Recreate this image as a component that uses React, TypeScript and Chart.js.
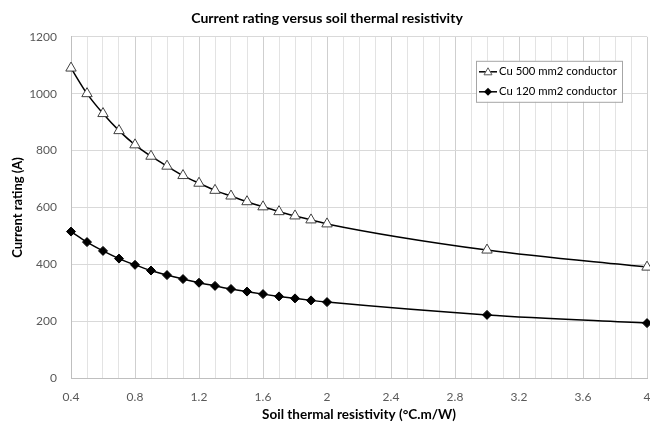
import React, { useEffect, useRef } from "react";
import { Chart, registerables } from "chart.js";

Chart.register(...registerables);

if (typeof document !== "undefined") {
  document.body.style.margin = "0";
  document.body.style.overflow = "hidden";
}

const resistivity = [0.4, 0.5, 0.6, 0.7, 0.8, 0.9, 1.0, 1.1, 1.2, 1.3, 1.4, 1.5, 1.6, 1.7, 1.8, 1.9, 2.0, 3.0, 4.0];
const cu500 = [1090, 1000, 930, 870, 820, 780, 745, 712, 685, 660, 640, 620, 602, 585, 570, 556, 542, 450, 390];
const cu120 = [515, 478, 447, 420, 398, 378, 362, 348, 335, 324, 313, 304, 295, 287, 280, 273, 267, 222, 193];
const seriesLabels = ["Cu 500 mm2 conductor", "Cu 120 mm2 conductor"];
const chartTitle = "Current rating versus soil thermal resistivity";
const xTitle = "Soil thermal resistivity (°C.m/W)";
const yTitle = "Current rating (A)";

const FONT = "Lato, 'Open Sans', sans-serif";

const legendPlugin = {
  id: "insideLegend",
  afterDraw(chart: any) {
    const { ctx, chartArea } = chart;
    const x0 = chartArea.right - 171;
    const y0 = chartArea.top + 24;
    const w = 146;
    const h = 41;
    ctx.save();
    ctx.fillStyle = "#ffffff";
    ctx.fillRect(x0, y0, w, h);
    ctx.strokeStyle = "#a6a6a6";
    ctx.lineWidth = 1;
    ctx.strokeRect(x0 + 0.5, y0 + 0.5, w, h);
    const rows = [y0 + 11, y0 + 31];
    ctx.font = `11.3px ${FONT}`;
    ctx.textBaseline = "middle";
    ctx.textAlign = "left";
    rows.forEach((ry, i) => {
      ctx.strokeStyle = "#000000";
      ctx.lineWidth = 1.5;
      ctx.beginPath();
      ctx.moveTo(x0 + 3, ry);
      ctx.lineTo(x0 + 21, ry);
      ctx.stroke();
      const cx = x0 + 12;
      if (i === 0) {
        ctx.fillStyle = "#ffffff";
        ctx.strokeStyle = "#595959";
        ctx.lineWidth = 1;
        ctx.beginPath();
        ctx.moveTo(cx, ry - 4);
        ctx.lineTo(cx + 4, ry + 3);
        ctx.lineTo(cx - 4, ry + 3);
        ctx.closePath();
        ctx.fill();
        ctx.stroke();
      } else {
        ctx.fillStyle = "#000000";
        ctx.beginPath();
        ctx.moveTo(cx, ry - 4);
        ctx.lineTo(cx + 4, ry);
        ctx.lineTo(cx, ry + 4);
        ctx.lineTo(cx - 4, ry);
        ctx.closePath();
        ctx.fill();
      }
      ctx.fillStyle = "#000000";
      ctx.fillText(seriesLabels[i], x0 + 23, ry);
    });
    ctx.restore();
  },
};

export default function App() {
  const ref = useRef<HTMLCanvasElement | null>(null);
  useEffect(() => {
    if (!ref.current) return;
    const chart = new Chart(ref.current, {
      type: "line",
      data: {
        datasets: [
          {
            label: seriesLabels[0],
            data: resistivity.map((x, i) => ({ x, y: cu500[i] })),
            borderColor: "#000000",
            borderWidth: 1.5,
            pointStyle: "triangle",
            pointRadius: 6,
            pointBackgroundColor: "#ffffff",
            pointBorderColor: "#404040",
            pointBorderWidth: 1,
            tension: 0.4,
            cubicInterpolationMode: "monotone",
            clip: false,
          },
          {
            label: seriesLabels[1],
            data: resistivity.map((x, i) => ({ x, y: cu120[i] })),
            borderColor: "#000000",
            borderWidth: 1.5,
            pointStyle: "rectRot",
            pointRadius: 4.5,
            pointBackgroundColor: "#000000",
            pointBorderColor: "#000000",
            pointBorderWidth: 1,
            tension: 0.4,
            cubicInterpolationMode: "monotone",
            clip: false,
          },
        ],
      },
      options: {
        animation: false,
        responsive: false,
        layout: { padding: { left: 0, right: 0, top: 2, bottom: 3 } },
        plugins: {
          legend: { display: false },
          tooltip: { enabled: false },
          title: {
            display: true,
            text: chartTitle,
            color: "#000000",
            font: { family: FONT, size: 14, weight: "bold" },
            padding: { top: 8, bottom: 10 },
          },
        },
        scales: {
          x: {
            type: "linear",
            min: 0.4,
            max: 4,
            afterFit: (s: any) => {
              s.paddingLeft = 0;
              s.paddingRight = 0;
              s.height = 45;
            },
            ticks: {
              stepSize: 0.1,
              autoSkip: false,
              maxRotation: 0,
              color: "#595959",
              font: { family: FONT, size: 12 },
              padding: 12,
              callback: (v: any) => {
                const r = Math.round(Number(v) * 10);
                return (r - 4) % 4 === 0 ? String(r / 10) : "";
              },
            },
            grid: {
              drawTicks: false,
              color: (c: any) => {
                const r = Math.round(Number(c.tick?.value) * 10);
                return (r - 4) % 4 === 0 ? "#cfcfcf" : "#e3e3e3";
              },
            },
            border: { color: "#bfbfbf" },
            title: {
              display: true,
              text: xTitle,
              color: "#000000",
              font: { family: FONT, size: 13.5, weight: "bold" },
              padding: { top: 2.5, bottom: 0 },
            },
          },
          y: {
            min: 0,
            max: 1200,
            afterFit: (s: any) => {
              s.width = 71;
              s.paddingLeft = 0;
              s.paddingRight = 0;
            },
            ticks: {
              stepSize: 200,
              color: "#595959",
              font: { family: FONT, size: 12 },
              padding: 14,
              callback: (v: any) => String(v),
            },
            grid: { drawTicks: false, color: "#d9d9d9" },
            border: { color: "#bfbfbf" },
            title: {
              display: true,
              text: yTitle,
              color: "#000000",
              font: { family: FONT, size: 13, weight: "bold" },
              padding: { top: 10, bottom: 0 },
            },
          },
        },
      },
      plugins: [legendPlugin],
    } as any);
    return () => chart.destroy();
  }, []);
  return (
    <div style={{ width: 650, height: 426, overflow: "hidden" }}>
      <canvas ref={ref} width={654} height={426} style={{ display: "block", width: 654, height: 426 }} />
    </div>
  );
}
